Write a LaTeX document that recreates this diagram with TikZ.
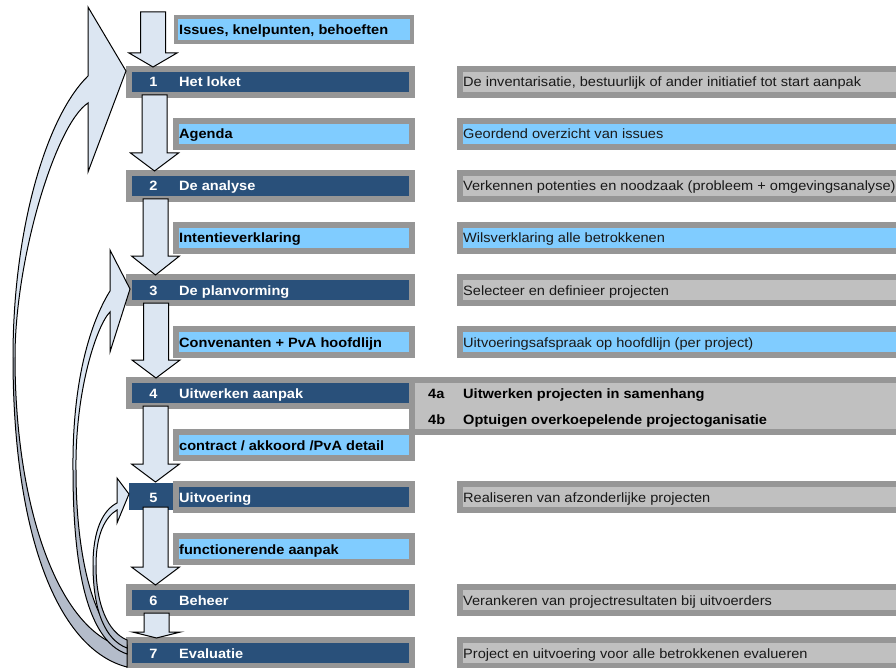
\documentclass[tikz,border=0pt]{standalone}
\usepackage{fontspec}
\setmainfont[FakeStretch=1.08]{Liberation Sans}
\usetikzlibrary{calc}
\definecolor{dkblue}{RGB}{41,80,122}
\definecolor{ltblue}{RGB}{128,204,255}
\definecolor{bgray}{RGB}{150,150,150}
\definecolor{rgray}{RGB}{192,192,192}
\definecolor{arrfill}{RGB}{220,230,242}
\definecolor{arrdark}{RGB}{180,188,202}
\newcommand\blockarrow[4]{%
  \path[blockarr] let \p1=(#1), \p2=(#2) in
    (#3pt-12.5pt,\y1+3pt) -- (#3pt+12.5pt,\y1+3pt) -- (#3pt+12.5pt,\y2-1pt+#4pt)
    -- (#3pt+24pt,\y2-1pt+#4pt) -- (#3pt,\y2-1pt) -- (#3pt-24pt,\y2-1pt+#4pt)
    -- (#3pt-12.5pt,\y2-1pt+#4pt) -- cycle;}
\begin{document}
\begin{tikzpicture}[x=1pt,y=-1pt,
  box/.style={draw=bgray, line width=6pt, inner sep=0pt, minimum height=26pt},
  dkbox/.style={box, fill=dkblue, minimum width=283pt},
  ltbox/.style={box, fill=ltblue, minimum width=236pt},
  rbox/.style={box, minimum width=445pt},
  txt/.style={inner sep=0pt, font=\fontsize{13.5}{16}\selectfont},
  btxt/.style={inner sep=0pt, font=\fontsize{13.5}{16}\selectfont\bfseries},
  wnum/.style={btxt, text=white, anchor=base},
  wlab/.style={btxt, text=white, anchor=base west},
  klab/.style={btxt, text=black, anchor=base west},
  rlab/.style={txt, text=black!90, anchor=base west},
  blockarr/.style={draw=black, line width=1pt, fill=arrfill, line join=miter},
  carrlight/.style={draw=black, line width=1pt, fill=arrfill, line join=miter},
  carrdark/.style={draw=black, line width=1pt, fill=arrdark, line join=miter}]
\useasboundingbox (0,0) rectangle (896,668);
\clip (0,0) rectangle (896,668);
\fill[white] (0,0) rectangle (896,668);

% left column boxes
\node[box, line width=4pt, fill=ltblue, minimum width=236pt, minimum height=25pt] (iss) at (294,29.5) {};
\node[dkbox] (r1) at (270.5,82) {};
\node[ltbox] (tA) at (294,134) {};
\node[dkbox] (r2) at (270.5,186) {};
\node[ltbox] (tI) at (294,238) {};
\node[dkbox] (r3) at (270.5,290) {};
\node[ltbox] (tC) at (294,342) {};
\node[dkbox] (r4) at (270.5,393) {};
\node[ltbox] (tK) at (294,445) {};
\node[fill=dkblue, inner sep=0pt, minimum width=44pt, minimum height=27pt] (r5) at (151,496.5) {};
\node[box, fill=dkblue, minimum width=236pt] (r5b) at (294,497) {};
\node[ltbox] (tF) at (294,549) {};
\node[dkbox] (r6) at (270.5,600) {};
\node[dkbox] (r7) at (270.5,653) {};

% right column boxes
\node[rbox, fill=rgray] (d1) at (682.5,82) {};
\node[rbox, fill=ltblue] (dA) at (682.5,134) {};
\node[rbox, fill=rgray] (d2) at (682.5,186) {};
\node[rbox, fill=ltblue] (dI) at (682.5,238) {};
\node[rbox, fill=rgray] (d3) at (682.5,290) {};
\node[rbox, fill=ltblue] (dC) at (682.5,342) {};
\node[box, fill=rgray, minimum width=493pt, minimum height=52pt] (d4) at (658.5,406) {};
\node[rbox, fill=rgray] (d5) at (682.5,497) {};
\node[rbox, fill=rgray] (d6) at (682.5,600) {};
\node[rbox, fill=rgray] (d7) at (682.5,653) {};

% down block arrows
\blockarrow{iss.north}{r1.north}{153}{14}
\blockarrow{r1.south}{r2.north}{154.5}{18}
\blockarrow{r2.south}{r3.north}{155.5}{19}
\blockarrow{r3.south}{r4.north}{156}{18}
\blockarrow{r4.south}{r5b.north}{155.5}{18}
\blockarrow{r5.south}{r6.north}{155.5}{18}
\blockarrow{r6.south}{r7.north}{156.5}{6}

% curved return arrows (Evaluatie -> Het loket, planvorming, Uitvoering)
\path[carrdark] (13,357) .. controls (13,540) and (60,650) .. (127,667) -- (127,648)
  .. controls (60,635) and (15,510) .. (15,357);
\path[carrlight] (13,357) .. controls (13,230) and (46,117) .. (88,76) -- (88,7) -- (126,71)
  -- (88,172) -- (88,103) .. controls (55,125) and (15,260) .. (15,357);

\path[carrdark] (73,470) .. controls (73,560) and (85,640) .. (127,654) -- (127,645)
  .. controls (95,632) and (76,560) .. (76,470);
\path[carrlight] (73,470) .. controls (72,370) and (95,315) .. (110,291) -- (110,250) -- (130,289)
  -- (110,352) -- (110,312) .. controls (97,325) and (75,390) .. (76,470);

\path[carrdark] (93,565) .. controls (93,610) and (105,640) .. (127,648) -- (127,640)
  .. controls (108,632) and (96,605) .. (96,565);
\path[carrlight] (93,565) .. controls (93,530) and (103,510) .. (117,503) -- (117,478) -- (129,494)
  -- (117,523) -- (117,510) .. controls (105,517) and (96,535) .. (96,565);

% texts left
\node[klab] (issT) at (179,34.5) {Issues, knelpunten, behoeften};
\node[wnum] (n1) at (153.5,87) {1};
\node[wlab] (l1) at (179,87) {Het loket};
\node[klab] (lA) at (179,139) {Agenda};
\node[wnum] (n2) at (153.5,191) {2};
\node[wlab] (l2) at (179,191) {De analyse};
\node[klab] (lI) at (179,243) {Intentieverklaring};
\node[wnum] (n3) at (153.5,295) {3};
\node[wlab] (l3) at (179,295) {De planvorming};
\node[klab] (lC) at (179,347) {Convenanten + PvA hoofdlijn};
\node[wnum] (n4) at (153.5,398) {4};
\node[wlab] (l4) at (179,398) {Uitwerken aanpak};
\node[klab] (lK) at (179,450) {contract / akkoord /PvA detail};
\node[wnum] (n5) at (153.5,502) {5};
\node[wlab] (l5) at (179,502) {Uitvoering};
\node[klab] (lF) at (179,554) {functionerende aanpak};
\node[wnum] (n6) at (153.5,605) {6};
\node[wlab] (l6) at (179,605) {Beheer};
\node[wnum] (n7) at (153.5,658) {7};
\node[wlab] (l7) at (179,658) {Evaluatie};

% texts right
\node[rlab] (t1) at (463,87) {De inventarisatie, bestuurlijk of ander initiatief tot start aanpak};
\node[rlab] (tAr) at (463,139) {Geordend overzicht van issues};
\node[rlab] (t2) at (463,191) {Verkennen potenties en noodzaak (probleem + omgevingsanalyse)};
\node[rlab] (tIr) at (463,243) {Wilsverklaring alle betrokkenen};
\node[rlab] (t3) at (463,295) {Selecteer en definieer projecten};
\node[rlab] (tCr) at (463,347) {Uitvoeringsafspraak op hoofdlijn (per project)};
\node[klab] (n4a) at (428,398) {4a};
\node[klab] (t4a) at (463,398) {Uitwerken projecten in samenhang};
\node[klab] (n4b) at (428,424) {4b};
\node[klab] (t4b) at (463,424) {Optuigen overkoepelende projectoganisatie};
\node[rlab] (t5) at (463,502) {Realiseren van afzonderlijke projecten};
\node[rlab] (t6) at (463,605) {Verankeren van projectresultaten bij uitvoerders};
\node[rlab] (t7) at (463,658) {Project en uitvoering voor alle betrokkenen evalueren};
\end{tikzpicture}
\end{document}
